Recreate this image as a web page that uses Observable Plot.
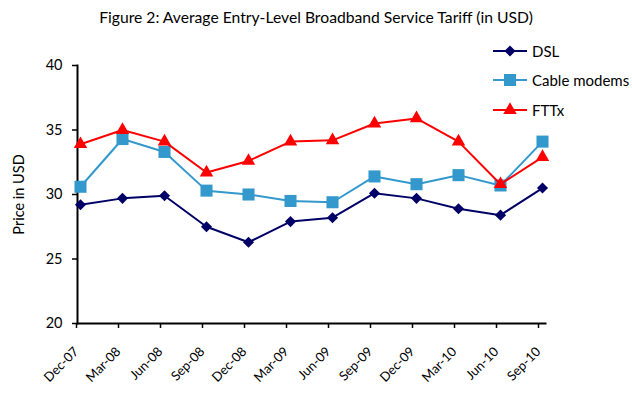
<!DOCTYPE html>
<html>
<head>
<meta charset="utf-8">
<script src="https://cdn.jsdelivr.net/npm/d3@7"></script>
<script src="https://cdn.jsdelivr.net/npm/@observablehq/plot@0.6"></script>
<style>
  body { margin: 0; background: #fff; font-family: Lato, "Open Sans", sans-serif; }
  #wrap { position: relative; width: 632px; height: 395px; overflow: hidden; }
  #title { height: 34px; line-height: 34px; text-align: center; font-size: 15.7px; color: #000; }
  #legend { position: absolute; left: 492px; top: 36px; font-size: 15px; color: #000; }
  .row { display: flex; align-items: center; height: 29.5px; }
  .row svg { margin-right: 4px; }
</style>
</head>
<body>
<div id="wrap">
  <div id="title">Figure 2: Average Entry-Level Broadband Service Tariff (in USD)</div>
  <div id="chart"></div>
  <div id="legend"></div>
</div>
<script>
const quarters = ["Dec-07","Mar-08","Jun-08","Sep-08","Dec-08","Mar-09","Jun-09","Sep-09","Dec-09","Mar-10","Jun-10","Sep-10"];
const seriesNames = ["DSL", "Cable modems", "FTTx"];
const dsl   = [29.2, 29.7, 29.9, 27.5, 26.3, 27.9, 28.2, 30.1, 29.7, 28.9, 28.4, 30.5];
const cable = [30.6, 34.3, 33.3, 30.3, 30.0, 29.5, 29.4, 31.4, 30.8, 31.5, 30.7, 34.1];
const fttx  = [33.9, 35.0, 34.1, 31.7, 32.6, 34.1, 34.2, 35.5, 35.9, 34.1, 30.8, 32.9];
const yTicks = [20, 25, 30, 35, 40];

const colors = {"DSL": "#000066", "Cable modems": "#3399cc", "FTTx": "#ff0000"};
const symbols = {"DSL": "diamond2", "Cable modems": "square", "FTTx": "triangle"};
const radii = {"DSL": 5, "Cable modems": 6.8, "FTTx": 5};

const valuesBy = {"DSL": dsl, "Cable modems": cable, "FTTx": fttx};
const rows = [];
for (const s of seriesNames) valuesBy[s].forEach((v, i) => rows.push({series: s, quarter: quarters[i], value: v}));

const marks = [
  Plot.frame({anchor: "left", stroke: "#000", strokeWidth: 2}),
  Plot.frame({anchor: "bottom", stroke: "#000", strokeWidth: 2}),
  Plot.axisY({ticks: yTicks, tickSize: 5, tickPadding: 10, fontSize: 14.5, strokeWidth: 1.5,
    label: "Price in USD", labelAnchor: "center", labelArrow: "none", labelOffset: 64}),
  Plot.axisX({tickSize: 5, tickRotate: -45, fontSize: 13, tickPadding: 21, dx: -4, strokeWidth: 1.5, label: null})
];
for (const s of seriesNames) {
  const d = rows.filter(r => r.series === s);
  marks.push(Plot.line(d, {x: "quarter", y: "value", stroke: colors[s], strokeWidth: 2}));
  marks.push(Plot.dot(d, {x: "quarter", y: "value", symbol: () => symbols[s], fill: colors[s], stroke: "none", r: radii[s]}));
}

const chart = Plot.plot({
  width: 632, height: 361,
  marginLeft: 77, marginRight: 87, marginTop: 31, marginBottom: 72,
  style: {fontFamily: "Lato, 'Open Sans', sans-serif", color: "#000", background: "#fff", fontSize: "15.5px"},
  x: {type: "point", domain: quarters, padding: 0},
  y: {domain: [20, 40]},
  symbol: {type: "identity"},
  marks
});
document.getElementById("chart").appendChild(chart);

const leg = document.getElementById("legend");
for (const s of seriesNames) {
  const row = document.createElement("div");
  row.className = "row";
  const sym = d3.symbol(d3["symbol" + (symbols[s] === "diamond2" ? "Diamond2" : symbols[s] === "square" ? "Square" : "Triangle")], Math.PI * radii[s] * radii[s])();
  row.innerHTML = `<svg width="36" height="16"><line x1="1" x2="35" y1="8" y2="8" stroke="${colors[s]}" stroke-width="2"/><path d="${sym}" transform="translate(18,8)" fill="${colors[s]}"/></svg><span>${s}</span>`;
  leg.appendChild(row);
}
</script>
</body>
</html>
